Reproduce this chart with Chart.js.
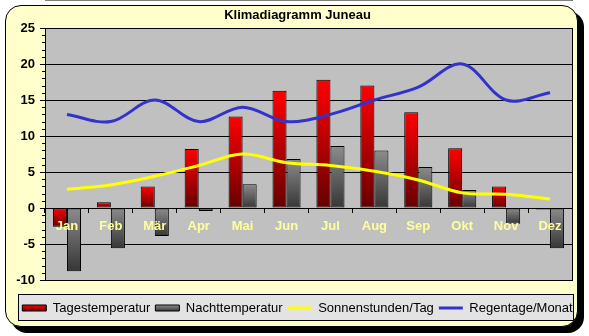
<!DOCTYPE html>
<html>
<head>
    <meta charset="utf-8">
    <title>Klimadiagramm Juneau</title>
    <script src="https://cdn.jsdelivr.net/npm/chart.js"></script>
    <style>
        body { margin: 0; background: #fff; }
        #wrap { position: relative; width: 589px; height: 336px; }
        #frame { position: absolute; left: 5px; top: 5px; width: 573px; height: 322px; box-sizing: border-box;
                 border: 1px solid #000; border-radius: 16px; background: #FFFFCC; box-shadow: 6px 6px 0 #000; }
        #chart { position: absolute; left: 0; top: 0; }
    </style>
</head>
<body>
    <div id="wrap">
        <div id="frame"></div>
        <canvas id="chart" width="589" height="336"></canvas>
    </div>

    <script>
        var months = ['Jan', 'Feb', 'Mär', 'Apr', 'Mai', 'Jun', 'Jul', 'Aug', 'Sep', 'Okt', 'Nov', 'Dez'];
        var tagesTemp = [-2.6, 0.8, 3.0, 8.2, 12.7, 16.3, 17.8, 17.0, 13.3, 8.3, 3.0, -0.2];
        var nachtTemp = [-8.8, -5.6, -3.9, -0.4, 3.3, 6.8, 8.6, 8.0, 5.7, 2.5, -2.2, -5.6];
        var sonnenstunden = [2.6, 3.2, 4.4, 5.9, 7.5, 6.3, 5.9, 5.1, 3.9, 2.1, 1.9, 1.25];
        var regentage = [13, 12, 15, 12, 14, 12, 13, 15, 16.8, 20, 15, 16];
        var yMin = -10, yMax = 25, yMajor = 5;

        var font = '"Liberation Sans", Arial, sans-serif';

        // vertical gradient per bar, light at the top, dark at the bottom
        function barGradient(top, bottom) {
            return function (c) {
                var chart = c.chart;
                if (!chart.chartArea || c.type !== 'data') return top;
                var y = chart.scales.y;
                var v = c.raw;
                var y0 = y.getPixelForValue(Math.max(v, 0));
                var y1 = y.getPixelForValue(Math.min(v, 0));
                if (y1 - y0 < 2) return bottom;
                var g = chart.ctx.createLinearGradient(0, y0, 0, y1);
                g.addColorStop(0, top);
                g.addColorStop(1, bottom);
                return g;
            };
        }

        // plot background, legend box and minor ticks
        var decor = {
            id: 'decor',
            beforeDraw: function (chart) {
                var ctx = chart.ctx, a = chart.chartArea;
                ctx.save();
                ctx.fillStyle = '#E3E3E3';
                ctx.fillRect(a.left - 27, a.bottom + 14, a.right - a.left + 29, 27);
                ctx.strokeStyle = '#000';
                ctx.lineWidth = 1;
                ctx.strokeRect(a.left - 26.5, a.bottom + 14.5, a.right - a.left + 28, 26);
                ctx.fillStyle = '#C0C0C0';
                ctx.fillRect(a.left, a.top, a.right - a.left, a.bottom - a.top);
                ctx.strokeRect(Math.round(a.left) + 0.5, Math.round(a.top) + 0.5,
                    Math.round(a.right - a.left), Math.round(a.bottom - a.top));
                ctx.restore();
            },
            afterDraw: function (chart) {
                var ctx = chart.ctx, s = chart.scales.y, a = chart.chartArea;
                ctx.save();
                ctx.strokeStyle = '#000';
                ctx.lineWidth = 1;
                ctx.beginPath();
                for (var v = yMin; v <= yMax; v++) {
                    if (v % yMajor === 0) continue;
                    var py = Math.round(s.getPixelForValue(v)) + 0.5;
                    ctx.moveTo(a.left - 3, py);
                    ctx.lineTo(a.left, py);
                }
                ctx.stroke();
                ctx.restore();
            }
        };

        var legendSwatch = document.getElementById('chart').getContext('2d');
        var redSwatch = legendSwatch.createLinearGradient(0, 305, 0, 311);
        redSwatch.addColorStop(0, '#FF0000');
        redSwatch.addColorStop(1, '#700000');
        var greySwatch = legendSwatch.createLinearGradient(0, 305, 0, 311);
        greySwatch.addColorStop(0, '#8C8C8C');
        greySwatch.addColorStop(1, '#3A3A3A');

        new Chart(document.getElementById('chart'), {
            type: 'bar',
            data: {
                labels: months,
                datasets: [{
                    label: 'Tagestemperatur',
                    data: tagesTemp,
                    backgroundColor: barGradient('#FF0000', '#660000'),
                    borderColor: '#000',
                    borderWidth: 1,
                    borderSkipped: false,
                    categoryPercentage: 0.64,
                    barPercentage: 1,
                    order: 2
                }, {
                    label: 'Nachttemperatur',
                    data: nachtTemp,
                    backgroundColor: barGradient('#8C8C8C', '#363636'),
                    borderColor: '#000',
                    borderWidth: 1,
                    borderSkipped: false,
                    categoryPercentage: 0.64,
                    barPercentage: 1,
                    order: 2
                }, {
                    type: 'line',
                    label: 'Sonnenstunden/Tag',
                    data: sonnenstunden,
                    borderColor: '#FFFF00',
                    backgroundColor: '#FFFF00',
                    borderWidth: 3,
                    pointRadius: 0,
                    tension: 0.35,
                    order: 1
                }, {
                    type: 'line',
                    label: 'Regentage/Monat',
                    data: regentage,
                    borderColor: '#3333CC',
                    backgroundColor: '#3333CC',
                    borderWidth: 3,
                    pointRadius: 0,
                    tension: 0.35,
                    order: 1
                }]
            },
            options: {
                responsive: false,
                devicePixelRatio: 1,
                animation: false,
                layout: { padding: { left: 6, right: 0, top: 0, bottom: 11.5 } },
                plugins: {
                    title: {
                        display: true,
                        text: 'Klimadiagramm Juneau',
                        color: '#000',
                        font: { family: font, size: 13, weight: 'bold' },
                        padding: { top: 8, bottom: 4.4 }
                    },
                    legend: {
                        position: 'bottom',
                        title: { display: true, text: '', font: { size: 10 }, padding: { top: 4.5, bottom: 0 } },
                        labels: {
                            color: '#000',
                            font: { family: font, size: 13 },
                            usePointStyle: true,
                            pointStyleWidth: 24,
                            boxHeight: 6,
                            padding: 5,
                            generateLabels: function (chart) {
                                var ds = chart.data.datasets;
                                var swatches = [
                                    [redSwatch, '#000', 1, 'rect'],
                                    [greySwatch, '#000', 1, 'rect'],
                                    ['#FFFF00', '#FFFF00', 3, 'line'],
                                    ['#3333CC', '#3333CC', 3, 'line']
                                ];
                                return swatches.map(function (s, i) {
                                    return {
                                        text: ds[i].label, fillStyle: s[0], strokeStyle: s[1], lineWidth: s[2],
                                        pointStyle: s[3], fontColor: '#000', hidden: false, datasetIndex: i
                                    };
                                });
                            }
                        }
                    },
                    tooltip: { enabled: false }
                },
                scales: {
                    x: {
                        position: { y: 0 },
                        offset: true,
                        grid: { drawOnChartArea: false, offset: true, tickLength: 4, color: '#000', z: 1 },
                        border: { display: true, color: '#000' },
                        ticks: {
                            z: 1,
                            color: '#FFFF99',
                            font: { family: font, size: 13, weight: 'bold' },
                            padding: 7,
                            maxRotation: 0,
                            autoSkip: false
                        }
                    },
                    y: {
                        min: yMin,
                        max: yMax,
                        afterFit: function (s) { s.width = 39; },
                        ticks: {
                            stepSize: 1,
                            autoSkip: false,
                            color: '#000',
                            padding: 5,
                            font: { family: font, size: 13, weight: 'bold' },
                            callback: function (v) { return v % yMajor === 0 ? v : ''; }
                        },
                        grid: {
                            color: function (c) { return c.tick && c.tick.value % yMajor === 0 ? '#000' : 'rgba(0,0,0,0)'; },
                            tickColor: function (c) { return c.tick && c.tick.value % yMajor === 0 ? '#000' : 'rgba(0,0,0,0)'; },
                            tickLength: 5
                        },
                        border: { color: '#000' }
                    },
                    y2: {
                        position: 'right',
                        afterFit: function (s) { s.width = 17; },
                        grid: { display: false },
                        border: { display: false },
                        ticks: { display: false }
                    }
                }
            },
            plugins: [decor]
        });
    </script>
</body>
</html>
